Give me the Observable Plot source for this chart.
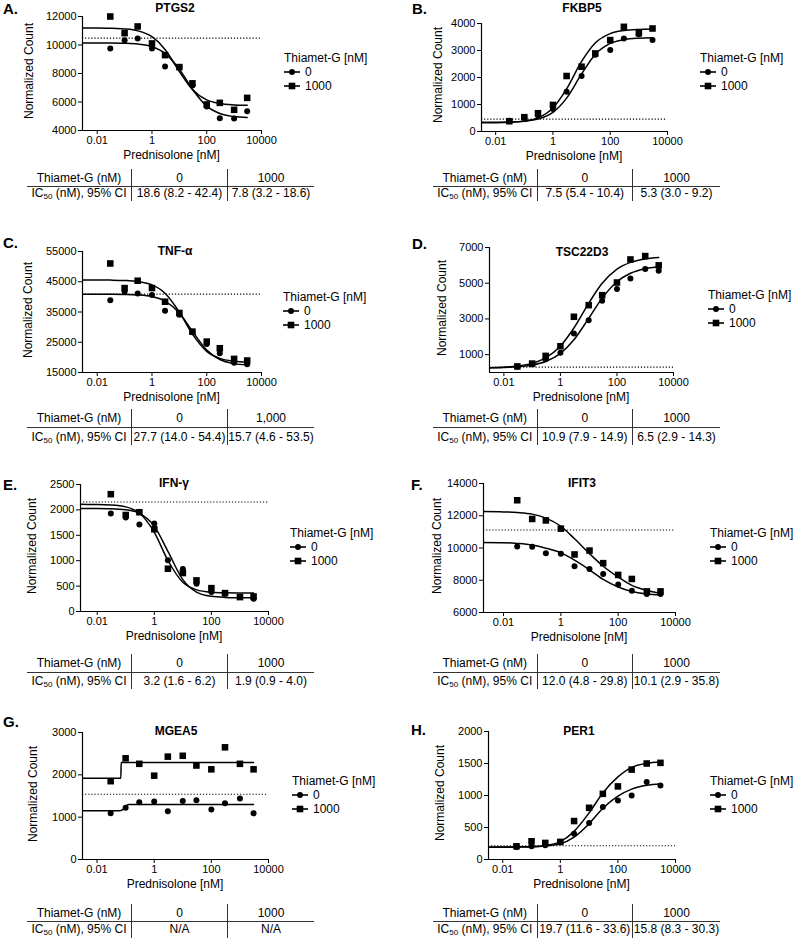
<!DOCTYPE html>
<html><head><meta charset="utf-8">
<script src="https://cdn.jsdelivr.net/npm/d3@7"></script>
<script src="https://cdn.jsdelivr.net/npm/@observablehq/plot@0.6"></script>
<style>
body{margin:0;background:#fff;}
#root{position:relative;width:795px;height:939px;font-family:"Liberation Sans",Arial,Helvetica,sans-serif;color:#000;overflow:hidden;background:#fff;}
.t{position:absolute;white-space:nowrap;line-height:1;}
.ln{position:absolute;background:#333;}
svg{overflow:visible;}
</style></head><body><div id="root"></div>
<script>
// ---------------- DATA ----------------
const concentrations = [0.03, 0.1, 0.3, 1, 3, 10, 30, 100, 300, 1000, 3000];
const curveX = [0.001, 0.01, 0.03, 0.1, 0.3, 1, 3, 10, 30, 100, 300, 1000, 3000];
const xTickValues = [0.01, 1, 100, 10000];
const genes = ["PTGS2", "FKBP5", "TNF-α", "TSC22D3", "IFN-γ", "IFIT3", "MGEA5", "PER1"];
const panelLetters = ["A.", "B.", "C.", "D.", "E.", "F.", "G.", "H."];
const thiametLevels = ["0", "1000"];
const thiametHeader1000 = ["1000", "1000", "1,000", "1000", "1000", "1000", "1000", "1000"];
const ic50_0 = ["18.6 (8.2 - 42.4)", "7.5 (5.4 - 10.4)", "27.7 (14.0 - 54.4)", "10.9 (7.9 - 14.9)", "3.2 (1.6 - 6.2)", "12.0 (4.8 - 29.8)", "N/A", "19.7 (11.6 - 33.6)"];
const ic50_1000 = ["7.8 (3.2 - 18.6)", "5.3 (3.0 - 9.2)", "15.7 (4.6  - 53.5)", "6.5 (2.9 - 14.3)", "1.9 (0.9 - 4.0)", "10.1 (2.9 - 35.8)", "N/A", "15.8 (8.3 - 30.3)"];

// PTGS2
const ptgs2_0 = [9750, 10340, 10460, 9760, 8500, 8450, 7150, 5680, 4860, 4840, 5350];
const ptgs2_1000 = [12000, 10830, 11300, 10110, 9290, 8450, 7310, 5830, 5940, 5450, 6290];
const ptgs2_fit0 = [10150, 10147, 10142, 10122, 10066, 9881, 9418, 8306, 6898, 5707, 5188, 4976, 4913];
const ptgs2_fit1000 = [11200, 11193, 11179, 11131, 10998, 10580, 9686, 8138, 6874, 6145, 5888, 5792, 5764];
const ptgs2_base = 10480;
const ptgs2_ticks = [4000, 6000, 8000, 10000, 12000];
// FKBP5
const fkbp5_0 = [400, 505, 590, 837, 1470, 2055, 2843, 3015, 3446, 3606, 3385];
const fkbp5_1000 = [380, 530, 677, 985, 2055, 2400, 2892, 3385, 3877, 3643, 3815];
const fkbp5_fit0 = [340, 344, 352, 381, 461, 709, 1237, 2134, 2852, 3261, 3403, 3457, 3472];
const fkbp5_fit1000 = [321, 327, 340, 384, 506, 872, 1578, 2595, 3278, 3625, 3739, 3782, 3794];
const fkbp5_base = 460;
const fkbp5_ticks = [0, 1000, 2000, 3000, 4000];
// TNF-alpha
const tnf_0 = [38850, 41700, 41150, 40600, 35440, 34120, 28300, 24450, 21370, 18190, 17750];
const tnf_1000 = [51040, 42900, 45330, 42910, 38400, 34670, 28520, 25220, 23020, 19500, 18960];
const tnf_fit0 = [40900, 40892, 40875, 40815, 40647, 40079, 38594, 34641, 28630, 22419, 19294, 17937, 17515];
const tnf_fit1000 = [45600, 45583, 45548, 45428, 45088, 43965, 41221, 34978, 27678, 22005, 19657, 18723, 18442];
const tnf_base = 40900;
const tnf_ticks = [15000, 25000, 35000, 45000, 55000];
// TSC22D3
const tsc_0 = [320, 460, 740, 1100, 2190, 2930, 4020, 4670, 5270, 5790, 5700];
const tsc_1000 = [340, 500, 930, 1470, 3120, 3770, 4330, 5040, 6330, 6520, 6000];
const tsc_fit0 = [255, 280, 318, 416, 613, 1072, 1834, 3032, 4167, 5083, 5558, 5813, 5916];
const tsc_fit1000 = [258, 298, 359, 512, 816, 1483, 2494, 3876, 4994, 5788, 6166, 6360, 6438];
const tsc_base = 300;
const tsc_ticks = [1000, 3000, 5000, 7000];
// IFN-gamma
const ifng_0 = [1928, 1850, 1711, 1730, 1007, 836, 546, 385, 349, 283, 250];
const ifng_1000 = [2309, 1900, 1954, 1618, 842, 757, 612, 460, 362, 283, 296];
const ifng_fit0 = [2030, 2028, 2024, 2003, 1933, 1681, 1184, 627, 382, 298, 278, 272, 270];
const ifng_fit1000 = [2110, 2107, 2098, 2060, 1938, 1558, 1004, 574, 426, 380, 369, 366, 365];
const ifng_base = 2155;
const ifng_ticks = [0, 500, 1000, 1500, 2000, 2500];
// IFIT3
const ifit3_0 = [10100, 10080, 9680, 9640, 8870, 8700, 8390, 7730, 7350, 7140, 7140];
const ifit3_1000 = [12960, 11800, 11710, 11200, 9600, 9840, 9060, 8330, 8080, 7310, 7310];
const ifit3_fit0 = [10350, 10330, 10280, 10180, 9990, 9700, 9250, 8650, 8050, 7580, 7300, 7150, 7080];
const ifit3_fit1000 = [12260, 12240, 12200, 12100, 11850, 11350, 10570, 9650, 8870, 8200, 7680, 7370, 7200];
const ifit3_base = 11120;
const ifit3_ticks = [6000, 8000, 10000, 12000, 14000];
// MGEA5
const mgea5_0 = [1090, 1220, 1350, 1370, 1140, 1380, 1400, 1180, 1330, 1440, 1090];
const mgea5_1000 = [1850, 2390, 2260, 1980, 2430, 2450, 2220, 2130, 2650, 2260, 2130];
const mgea5_fitX0 = [0.001, 0.06, 0.08, 0.1, 0.13, 3000];
const mgea5_fit0 = [1150, 1150, 1180, 1260, 1300, 1300];
const mgea5_fitX1000 = [0.001, 0.068, 0.07, 3000];
const mgea5_fit1000 = [1920, 1920, 2290, 2290];
const mgea5_base = 1540;
const mgea5_ticks = [0, 1000, 2000, 3000];
// PER1
const per1_0 = [197, 207, 223, 269, 404, 570, 819, 922, 1000, 1210, 1158];
const per1_1000 = [207, 285, 259, 275, 601, 808, 1026, 1142, 1405, 1500, 1510];
const per1_fit0 = [195, 196, 197, 200, 212, 245, 350, 560, 800, 990, 1100, 1160, 1180];
const per1_fit1000 = [190, 191, 194, 200, 220, 280, 440, 730, 1040, 1290, 1440, 1505, 1525];
const per1_base = 215;
const per1_ticks = [0, 500, 1000, 1500, 2000];

const panels = [
  {obs0: ptgs2_0, obs1000: ptgs2_1000, fx0: curveX, fy0: ptgs2_fit0, fx1000: curveX, fy1000: ptgs2_fit1000, base: ptgs2_base, ticks: ptgs2_ticks},
  {obs0: fkbp5_0, obs1000: fkbp5_1000, fx0: curveX, fy0: fkbp5_fit0, fx1000: curveX, fy1000: fkbp5_fit1000, base: fkbp5_base, ticks: fkbp5_ticks},
  {obs0: tnf_0, obs1000: tnf_1000, fx0: curveX, fy0: tnf_fit0, fx1000: curveX, fy1000: tnf_fit1000, base: tnf_base, ticks: tnf_ticks},
  {obs0: tsc_0, obs1000: tsc_1000, fx0: curveX, fy0: tsc_fit0, fx1000: curveX, fy1000: tsc_fit1000, base: tsc_base, ticks: tsc_ticks, ymin: 0},
  {obs0: ifng_0, obs1000: ifng_1000, fx0: curveX, fy0: ifng_fit0, fx1000: curveX, fy1000: ifng_fit1000, base: ifng_base, ticks: ifng_ticks},
  {obs0: ifit3_0, obs1000: ifit3_1000, fx0: curveX, fy0: ifit3_fit0, fx1000: curveX, fy1000: ifit3_fit1000, base: ifit3_base, ticks: ifit3_ticks},
  {obs0: mgea5_0, obs1000: mgea5_1000, fx0: mgea5_fitX0, fy0: mgea5_fit0, fx1000: mgea5_fitX1000, fy1000: mgea5_fit1000, base: mgea5_base, ticks: mgea5_ticks},
  {obs0: per1_0, obs1000: per1_1000, fx0: curveX, fy0: per1_fit0, fx1000: curveX, fy1000: per1_fit1000, base: per1_base, ticks: per1_ticks}
];

// ---------------- LAYOUT ----------------
const tabL = {x0: 27, x1: 314, v1: 131, v2: 227};
const tabR = {x0: 433, x1: 720, v1: 536.5, v2: 632};
const rowsAB = {y1: 178, yl: 185.5, y2: 193, vt: 169, vb: 201};
const rowsCD = {y1: 418, yl: 427, y2: 437, vt: 409, vb: 445};
const rowsEF = {y1: 663, yl: 672, y2: 680.5, vt: 654, vb: 689};
const rowsGH = {y1: 913, yl: 920.5, y2: 929, vt: 904, vb: 938};
const layout = [
  {L: 82, R: 261, T: 16, B: 130, xmin: 0.0029, lx: 3, ly: 8, tx: 175, ty: 8, yl: 29, gx: 284, gy: 58, tab: tabL, rows: rowsAB},
  {L: 481, R: 667, T: 23, B: 131, xmin: 0.0032, lx: 412, ly: 8, tx: 582, ty: 8, yl: 438, gx: 700, gy: 58, tab: tabR, rows: rowsAB},
  {L: 82, R: 261, T: 251, B: 372, xmin: 0.0029, lx: 3, ly: 242, tx: 175, ty: 251, yl: 28, gx: 283, gy: 297, tab: tabL, rows: rowsCD},
  {L: 489, R: 673, T: 247, B: 372, xmin: 0.0031, lx: 412, ly: 243, tx: 582, ty: 252, yl: 442, gx: 708, gy: 295, tab: tabR, rows: rowsCD},
  {L: 80, R: 268, T: 484, B: 611, xmin: 0.0026, lx: 3, ly: 484, tx: 174, ty: 483, yl: 32, gx: 290, gy: 533, tab: tabL, rows: rowsEF},
  {L: 483, R: 675, T: 483, B: 612, xmin: 0.002, lx: 411, ly: 484, tx: 582, ty: 483, yl: 437, gx: 710, gy: 533, tab: tabR, rows: rowsEF},
  {L: 82, R: 268, T: 732, B: 859, xmin: 0.0031, lx: 3, ly: 721, tx: 176, ty: 731, yl: 33, gx: 292, gy: 781, tab: tabL, rows: rowsGH},
  {L: 488, R: 675, T: 731, B: 859, xmin: 0.0032, lx: 411, ly: 729, tx: 579, ty: 731, yl: 440, gx: 710, gy: 781, tab: tabR, rows: rowsGH}
];

const root = document.getElementById("root");
const FONT = '"Liberation Sans", Arial, Helvetica, sans-serif';

function text(x, y, html, opt = {}) {
  const d = document.createElement("div");
  d.className = "t";
  d.innerHTML = html;
  d.style.left = x + "px";
  d.style.top = y + "px";
  d.style.fontSize = (opt.size || 12) + "px";
  if (opt.bold) d.style.fontWeight = "bold";
  const ax = opt.anchor === "start" ? "0" : opt.anchor === "end" ? "-100%" : "-50%";
  d.style.transform = `translate(${ax}, -50%)` + (opt.rotate ? " rotate(-90deg)" : "");
  if (opt.rotate) d.style.transformOrigin = "0 0";
  root.appendChild(d);
  return d;
}
function rotText(x, y, s, size) {
  const d = document.createElement("div");
  d.className = "t";
  d.textContent = s;
  d.style.fontSize = size + "px";
  d.style.left = x + "px";
  d.style.top = y + "px";
  d.style.transform = "translate(-50%, -50%) rotate(-90deg)";
  root.appendChild(d);
}
function line(x, y, w, h) {
  const d = document.createElement("div");
  d.className = "ln";
  d.style.left = x + "px"; d.style.top = y + "px";
  d.style.width = w + "px"; d.style.height = h + "px";
  root.appendChild(d);
}
function legendSymbol(x, y, kind) {
  const ns = "http://www.w3.org/2000/svg";
  const s = document.createElementNS(ns, "svg");
  s.setAttribute("width", 18); s.setAttribute("height", 10);
  s.style.position = "absolute"; s.style.left = x + "px"; s.style.top = (y - 5) + "px";
  const l = document.createElementNS(ns, "line");
  l.setAttribute("x1", 0); l.setAttribute("x2", 16); l.setAttribute("y1", 5); l.setAttribute("y2", 5);
  l.setAttribute("stroke", "#000"); l.setAttribute("stroke-width", 1.6);
  s.appendChild(l);
  let m;
  if (kind === "circle") {
    m = document.createElementNS(ns, "circle");
    m.setAttribute("cx", 8); m.setAttribute("cy", 5); m.setAttribute("r", 3);
  } else {
    m = document.createElementNS(ns, "rect");
    m.setAttribute("x", 4.7); m.setAttribute("y", 1.7); m.setAttribute("width", 6.6); m.setAttribute("height", 6.6);
  }
  m.setAttribute("fill", "#000");
  s.appendChild(m);
  root.appendChild(s);
}

panels.forEach((p, i) => {
  const g = layout[i];
  const ml = 62, mr = 14, mt = 12, mb = 24;
  const width = g.R - g.L + ml + mr;
  const height = g.B - g.T + mt + mb;
  const yDomain = [p.ticks[0] > 0 && p.ymin === 0 ? 0 : p.ticks[0], p.ticks[p.ticks.length - 1]];
  const pts0 = concentrations.map((c, k) => ({x: c, y: p.obs0[k]}));
  const pts1 = concentrations.map((c, k) => ({x: c, y: p.obs1000[k]}));
  const fit = [
    ...p.fx0.map((x, k) => ({x, y: p.fy0[k], s: thiametLevels[0]})),
    ...p.fx1000.map((x, k) => ({x, y: p.fy1000[k], s: thiametLevels[1]}))
  ];
  const chart = Plot.plot({
    width, height, marginLeft: ml, marginRight: mr, marginTop: mt, marginBottom: mb,
    style: {fontFamily: FONT, fontSize: "11px", color: "#000", background: "transparent", overflow: "visible"},
    x: {type: "log", domain: [g.xmin, 10000]},
    y: {domain: yDomain},
    marks: [
      Plot.ruleY([p.base], {stroke: "#000", strokeWidth: 1.1, strokeDasharray: "1.2,1.9"}),
      Plot.line(fit, {x: "x", y: "y", z: "s", stroke: "#000", strokeWidth: 1.5, curve: "monotone-x", clip: true}),
      Plot.dot(pts0, {x: "x", y: "y", symbol: "circle", r: 3, fill: "#000", stroke: "none"}),
      Plot.dot(pts1, {x: "x", y: "y", symbol: "square", r: 3.7, fill: "#000", stroke: "none"}),
      Plot.axisX({ticks: xTickValues, tickFormat: d => String(d), tickSize: 4, tickPadding: 2, label: null}),
      Plot.axisY({ticks: p.ticks, tickFormat: d => String(d), tickSize: 4, tickPadding: 2, label: null}),
      Plot.ruleX([g.xmin], {stroke: "#000", strokeWidth: 1.2}),
      Plot.ruleY([yDomain[0]], {stroke: "#000", strokeWidth: 1.2})
    ]
  });
  chart.style.position = "absolute";
  chart.style.left = (g.L - ml) + "px";
  chart.style.top = (g.T - mt) + "px";
  root.appendChild(chart);

  // panel letter, title, axis labels
  text(g.lx, g.ly, panelLetters[i], {size: 15, bold: true, anchor: "start"});
  text(g.tx, g.ty, genes[i], {size: 12, bold: true});
  text((g.L + g.R) / 2, g.B + 25, "Prednisolone [nM]", {size: 12});
  rotText(g.yl, (g.T + g.B) / 2 - 2, "Normalized Count", 12);

  // legend
  text(g.gx, g.gy, "Thiamet-G [nM]", {size: 12, anchor: "start"});
  legendSymbol(g.gx, g.gy + 14, "circle");
  text(g.gx + 21, g.gy + 14, thiametLevels[0], {size: 12, anchor: "start"});
  legendSymbol(g.gx, g.gy + 28, "square");
  text(g.gx + 21, g.gy + 28, thiametLevels[1], {size: 12, anchor: "start"});

  // table
  const t = g.tab, r = g.rows;
  line(t.x0, r.yl, t.x1 - t.x0, 1);
  line(t.v1, r.vt, 1, r.vb - r.vt);
  line(t.v2, r.vt, 1, r.vb - r.vt);
  text((t.x0 + t.v1) / 2, r.y1, "Thiamet-G (nM)", {size: 12});
  text((t.v1 + t.v2) / 2 + 0.5, r.y1, thiametLevels[0], {size: 12});
  text((t.v2 + t.x1) / 2 + 0.5, r.y1, thiametHeader1000[i], {size: 12});
  text((t.x0 + t.v1) / 2, r.y2, 'IC<sub style="font-size:8px;vertical-align:-2px;line-height:0">50</sub> (nM), 95% CI', {size: 12});
  text((t.v1 + t.v2) / 2 + 0.5, r.y2, ic50_0[i], {size: 12});
  text((t.v2 + t.x1) / 2 + 0.5, r.y2, ic50_1000[i], {size: 12});
});
</script></body></html>
